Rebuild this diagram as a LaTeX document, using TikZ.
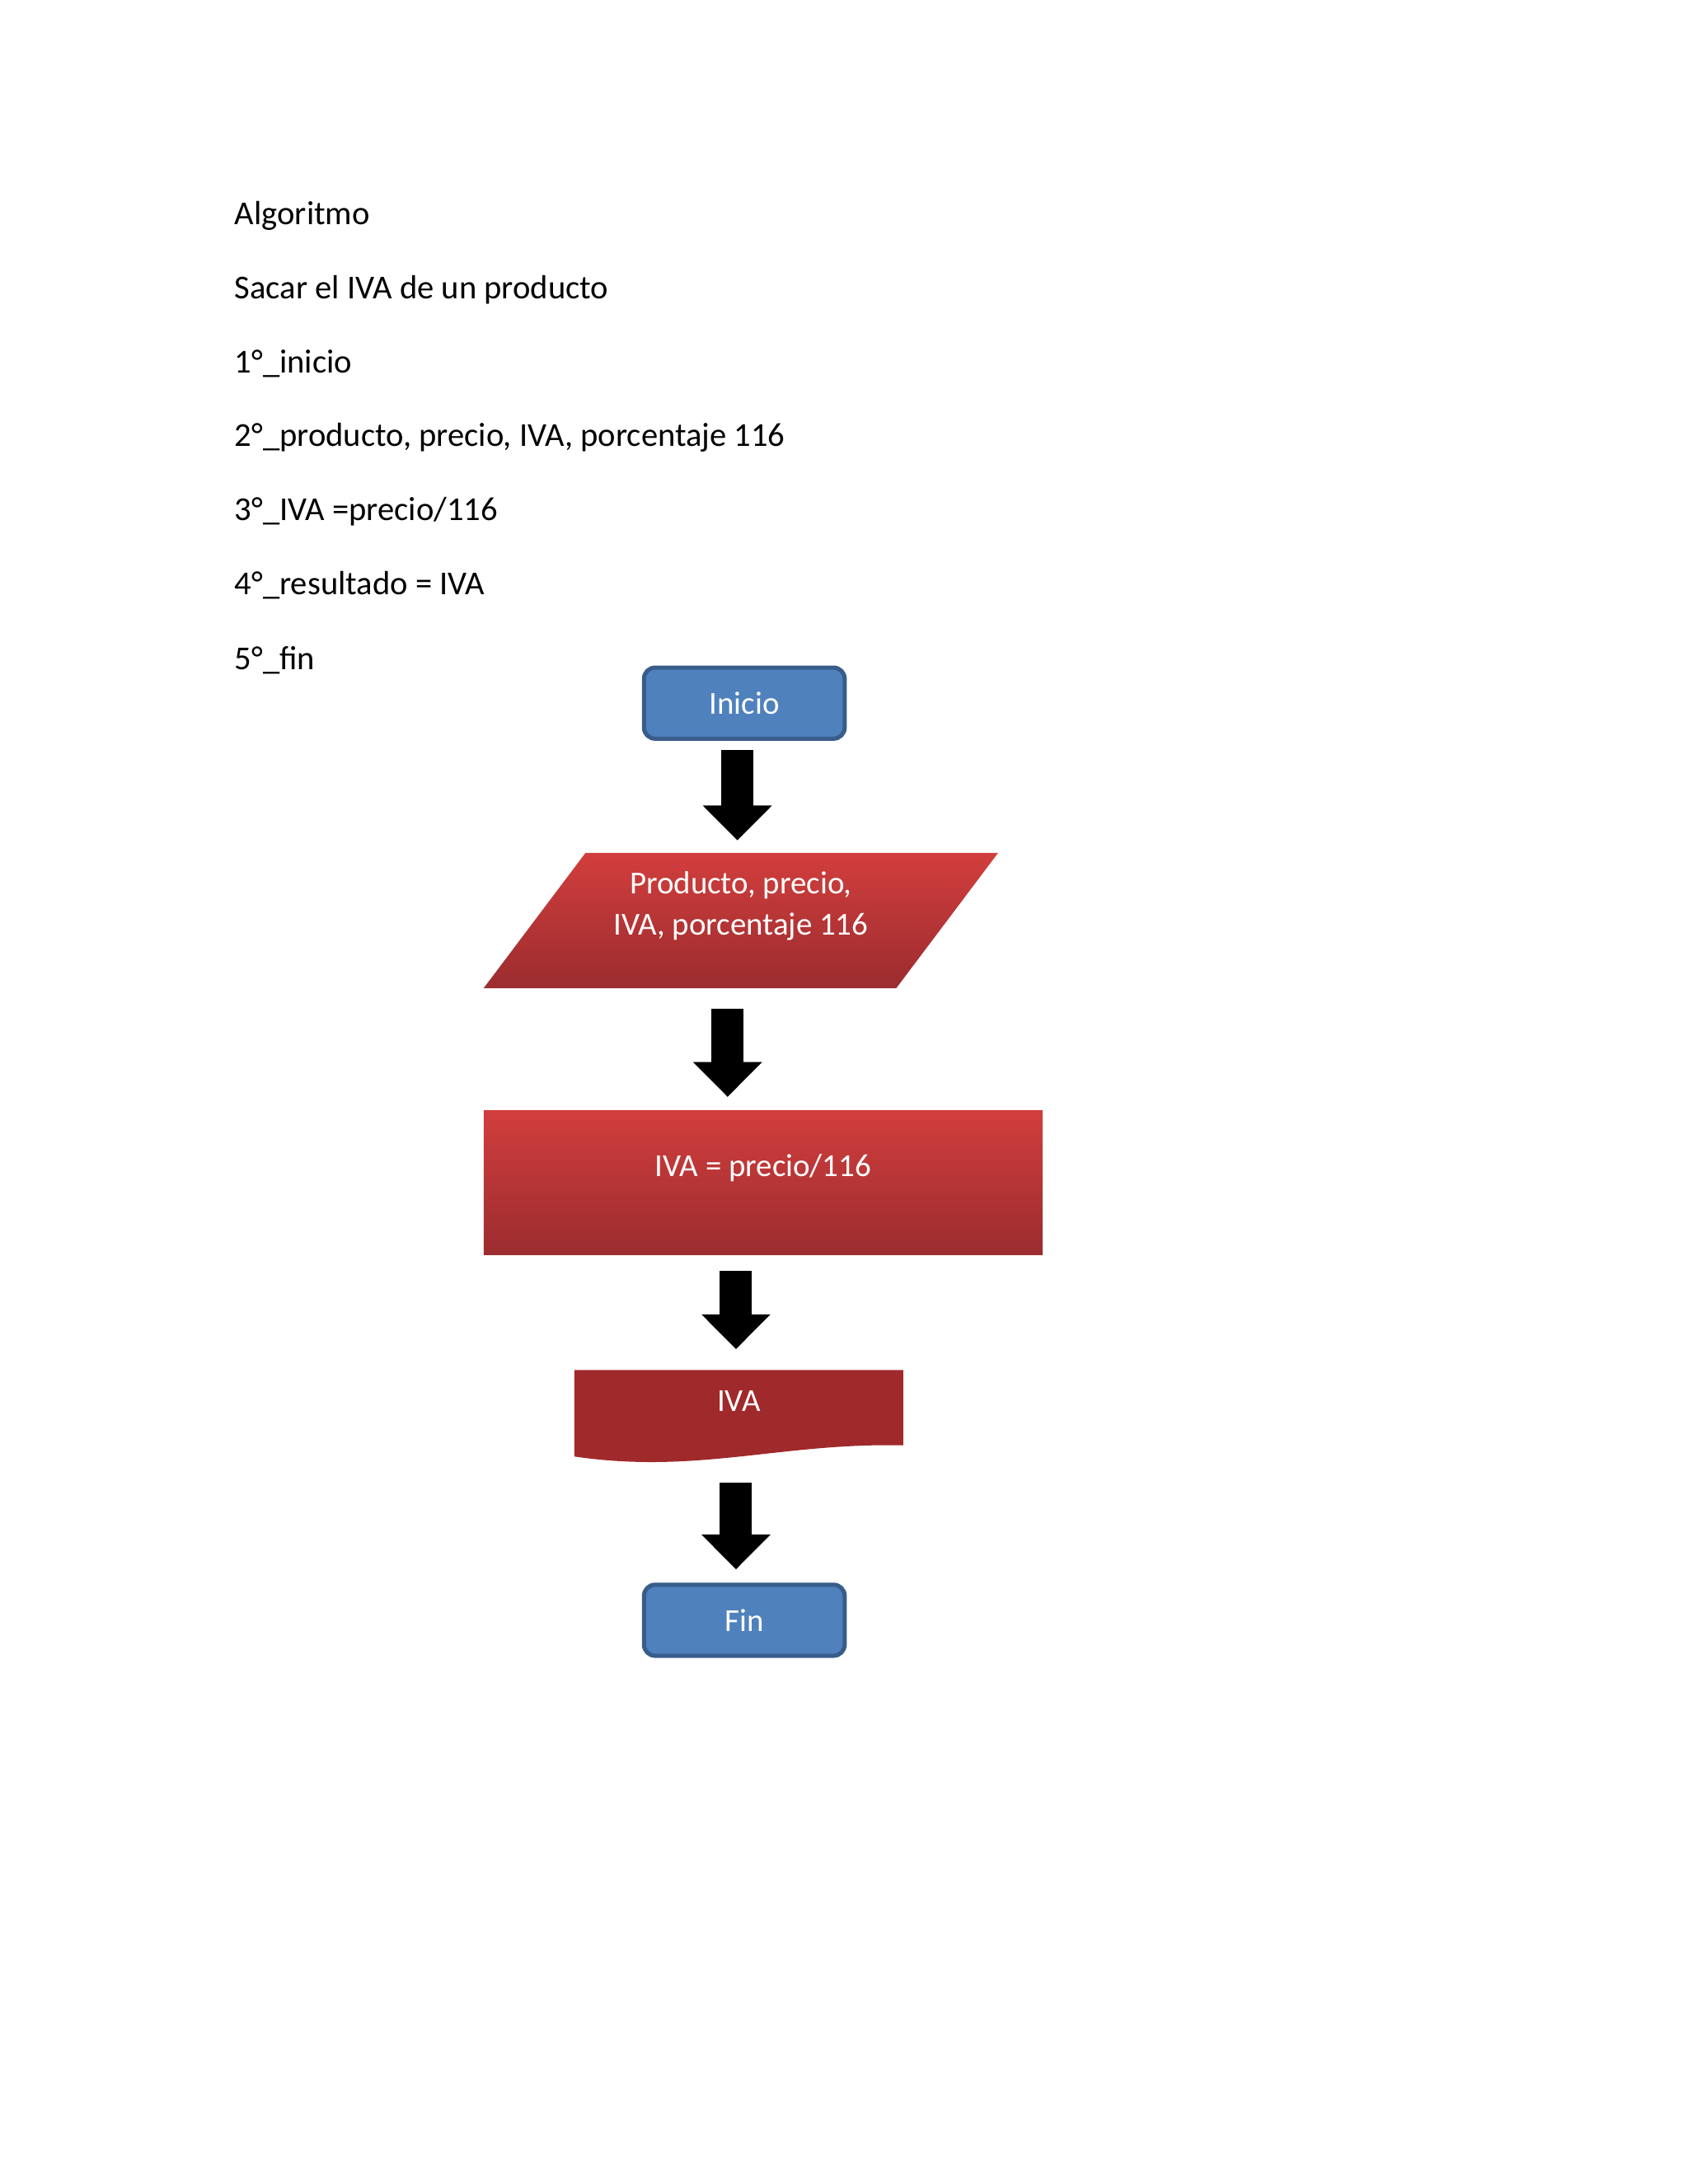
\documentclass[tikz,border=0pt]{standalone}
\usepackage{fontspec}
\setmainfont{Carlito}
\usetikzlibrary{arrows.meta}
\definecolor{blu}{HTML}{4F81BD}
\definecolor{blud}{HTML}{385D8A}
\definecolor{rtop}{HTML}{D23E3D}
\definecolor{rbot}{HTML}{9B2C2F}
\definecolor{rdoc}{HTML}{A0292B}
\begin{document}
\begin{tikzpicture}[x=0.5pt,y=-0.5pt,
  txt/.style={anchor=west,font=\fontsize{12pt}{14pt}\selectfont,inner sep=0},
  term/.style={draw=blud,line width=1.5pt,fill=blu,rounded corners=4pt,minimum width=72pt,minimum height=25.5pt,text=white,font=\fontsize{11.5pt}{13pt}\selectfont},
  wt/.style={text=white,font=\fontsize{11.5pt}{13pt}\selectfont,align=center},
  redsh/.style={top color=rtop,bottom color=rbot,draw=none},
  big/.style={line width=11.5pt,-{Triangle[width=24pt,length=12.5pt]}}]
\useasboundingbox (0,0) rectangle (1211,1567);
\node[txt] (t1) at (168,155) {Algoritmo};
\node[txt] (t2) at (168,208) {Sacar el IVA de un producto};
\node[txt] (t3) at (168,261) {1°\_inicio};
\node[txt] (t4) at (168,314) {2°\_producto, precio, IVA, porcentaje 116};
\node[txt] (t5) at (168,367) {3°\_IVA =precio/116};
\node[txt] (t6) at (168,420) {4°\_resultado = IVA};
\node[txt] (t7) at (168,474) {5°\_fin};

\node[term] (ini) at (534,504.5) {Inicio};
\node[term] (fin) at (534,1162.5) {Fin};

\path[redsh] (420,612) -- (716,612) -- (643,709) -- (347,709) -- cycle;
\node[wt] (par) at (531.5,650) {Producto, precio,\\[2pt]IVA, porcentaje 116};

\path[redsh] (347,797) rectangle (748,900);
\node[wt] (rect) at (547.5,838) {IVA = precio/116};

\path[fill=rdoc] (412,983) -- (648,983) -- (648,1037) .. controls (560,1035) and (500,1058) .. (412,1045) -- cycle;
\node[wt] (doc) at (530,1005) {IVA};

\coordinate (a1s) at (529,538); \coordinate (a1e) at (529,603);
\coordinate (a2s) at (522,724); \coordinate (a2e) at (522,787);
\coordinate (a3s) at (528,912); \coordinate (a3e) at (528,968);
\coordinate (a4s) at (528,1064); \coordinate (a4e) at (528,1126);
\draw[big] (a1s) -- (a1e);
\draw[big] (a2s) -- (a2e);
\draw[big] (a3s) -- (a3e);
\draw[big] (a4s) -- (a4e);
\end{tikzpicture}
\end{document}
